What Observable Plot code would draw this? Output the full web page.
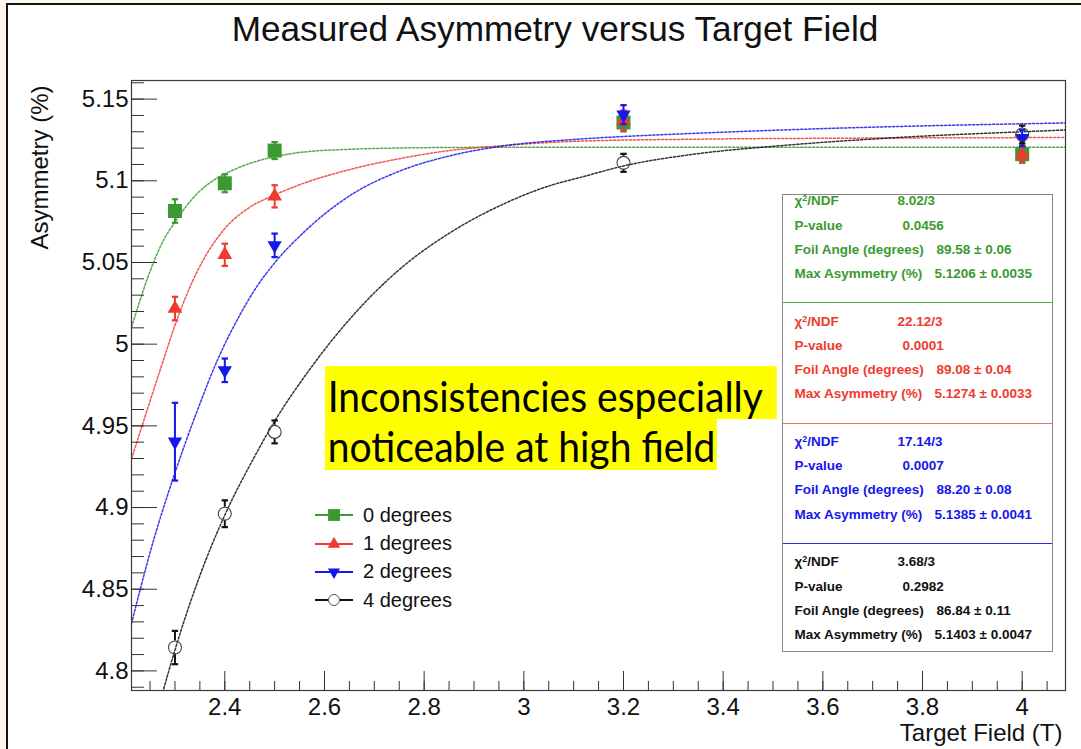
<!DOCTYPE html>
<html>
<head>
<meta charset="utf-8">
<script src="https://cdn.jsdelivr.net/npm/d3@7"></script>
<script src="https://cdn.jsdelivr.net/npm/@observablehq/plot@0.6"></script>
<style>
  html, body { margin: 0; padding: 0; }
  body { position: relative; width: 1081px; height: 749px; overflow: hidden; background: #fdf6ea;
         font-family: "Liberation Sans", Arial, Helvetica, sans-serif; color: #111; }
  #sheet { position: absolute; left: 6px; top: 3px; width: 1100px; height: 780px; background: #fff;
           border-left: 2px solid #141414; border-top: 2px solid #141414; }
  #chart { position: absolute; left: 0; top: 0; }
  #title { position: absolute; left: 0; top: 11px; width: 1110px; text-align: center;
           font-size: 35.2px; line-height: 35px; }
  #legend { position: absolute; left: 313px; top: 501px; font-size: 20px; }
  .lg-row { display: flex; align-items: center; height: 28.4px; }
  .lg-row svg { margin-right: 8px; overflow: visible; }
  #stats { position: absolute; left: 782px; top: 194px; width: 271px; height: 458px; box-sizing: border-box;
           border: 1.5px solid #8a8a8a; background: #fff; overflow: hidden; }
  .divider { position: absolute; left: 0; width: 100%; height: 0; border-top: 1.5px solid; }
  .st { position: absolute; font-weight: bold; font-size: 13.5px; line-height: 12px; white-space: pre; }
  .st .sup { position: relative; top: -4px; font-size: 9px; line-height: 0; }
  #note { position: absolute; left: 325px; top: 366px; font-family: Lato, "Open Sans", sans-serif;
          font-size: 43px; color: #000; transform: scaleX(0.907); transform-origin: 0 0; }
  #note div { background: #ffff00; width: fit-content; white-space: pre; padding-left: 3px; }
</style>
</head>
<body>
<div id="sheet"></div>
<div id="chart"></div>
<div id="title">Measured Asymmetry versus Target Field</div>
<div id="legend"></div>
<div id="stats"></div>
<div id="note">
  <div style="height:53px; padding-top:6px; padding-right:5px; line-height:47px; box-sizing:border-box;">Inconsistencies especially </div>
  <div style="height:51px; padding-top:2px; padding-right:2px; line-height:49px; box-sizing:border-box;">noticeable at high field</div>
</div>
<script>
// ---- measurements: asymmetry (%) at each target field (T) for each foil tilt ----
const fieldT = [2.3, 2.4, 2.5, 3.2, 4.0];
const seriesNames = ["0 degrees", "1 degrees", "2 degrees", "4 degrees"];

const asym0 = [5.0815, 5.0985, 5.1185, 5.1357, 5.1163];
const err0  = [0.0072, 0.0055, 0.0052, 0.0055, 0.0045];
const asym1 = [5.0218, 5.0547, 5.0905, 5.1370, 5.1160];
const err1  = [0.0072, 0.0068, 0.0068, 0.0060, 0.0050];
const asym2 = [4.9403, 4.9840, 5.0605, 5.1405, 5.1262];
const err2  = [0.0238, 0.0072, 0.0072, 0.0058, 0.0050];
const asym4 = [4.8143, 4.8962, 4.9463, 5.1110, 5.1283];
const err4  = [0.0102, 0.0082, 0.0070, 0.0055, 0.0055];

// ---- fitted curves, sampled along the field axis ----
const fitField0 = [2.2128, 2.257, 2.279, 2.301, 2.345, 2.377, 2.399, 2.446, 2.498, 2.552, 2.652, 2.753, 2.853, 3.054, 4.0869];
const fitAsym0  = [5.0103, 5.0501, 5.0647, 5.0752, 5.0923, 5.1002, 5.1040, 5.1102, 5.1146, 5.1174, 5.1193, 5.1201, 5.1204, 5.1206, 5.1206];
const fitField1 = [2.2128, 2.277, 2.301, 2.345, 2.399, 2.446, 2.498, 2.552, 2.652, 2.753, 2.853, 2.953, 3.114, 3.355, 3.656, 4.0869];
const fitAsym1  = [4.9298, 4.9904, 5.0124, 5.0447, 5.0704, 5.0830, 5.0911, 5.0978, 5.1070, 5.1137, 5.1186, 5.1214, 5.1243, 5.1255, 5.1261, 5.1265];
const fitField2 = [2.2128, 2.257, 2.297, 2.345, 2.385, 2.432, 2.458, 2.506, 2.552, 2.592, 2.652, 2.753, 2.853, 2.953, 3.114, 3.254, 3.395, 3.595, 3.856, 4.0869];
const fitAsym2  = [4.8291, 4.8799, 4.9185, 4.9595, 4.9901, 5.0188, 5.0323, 5.0519, 5.0666, 5.0776, 5.0911, 5.1062, 5.1154, 5.1211, 5.1256, 5.1279, 5.1297, 5.1319, 5.1340, 5.1354];
const fitField4 = [2.271, 2.301, 2.345, 2.399, 2.458, 2.500, 2.566, 2.652, 2.753, 2.853, 2.953, 3.054, 3.114, 3.200, 3.355, 3.515, 3.756, 3.999, 4.0869];
const fitAsym4  = [4.7820, 4.8138, 4.8542, 4.8947, 4.9302, 4.9528, 4.9827, 5.0158, 5.0464, 5.0684, 5.0849, 5.0972, 5.1021, 5.1091, 5.1168, 5.1215, 5.1266, 5.1300, 5.1311];

// ---- fit statistics ----
const statChi2  = ["8.02/3", "22.12/3", "17.14/3", "3.68/3"];
const statPval  = ["0.0456", "0.0001", "0.0007", "0.2982"];
const statAngle = ["89.58 \u00b1 0.06", "89.08 \u00b1 0.04", "88.20 \u00b1 0.08", "86.84 \u00b1 0.11"];
const statMax   = ["5.1206 \u00b1 0.0035", "5.1274 \u00b1 0.0033", "5.1385 \u00b1 0.0041", "5.1403 \u00b1 0.0047"];
const statLabels = ["\u03c7<span class='sup'>2</span>/NDF", "P-value", "Foil Angle (degrees)", "Max Asymmetry (%)"];

// ---- axis ticks ----
const xMajor = [2.4, 2.6, 2.8, 3, 3.2, 3.4, 3.6, 3.8, 4];
const yMajor = [4.8, 4.85, 4.9, 4.95, 5, 5.05, 5.1, 5.15];

const colors = ["#3a9a31", "#ef3a2e", "#1616ee", "#111111"];
const symbols = ["square", "triangle", "triangle", "circle"];
const d3Symbols = [d3.symbolSquare, d3.symbolTriangle, d3.symbolTriangle, d3.symbolCircle];
const rotations = [0, 0, 180, 0];
const radii = [7.9, 5.5, 5.3, 6.5];

const asyms = [asym0, asym1, asym2, asym4];
const errs = [err0, err1, err2, err4];
const fitFields = [fitField0, fitField1, fitField2, fitField4];
const fitAsyms = [fitAsym0, fitAsym1, fitAsym2, fitAsym4];

const W = 1081, H = 749;
const mL = 131, mR = 16, mT = 80, mB = 59;
const frameW = W - mL - mR, frameH = H - mT - mB;

const xMinor = d3.range(2.25, 4.09, 0.05).map(v => +v.toFixed(2));
const yMinor = d3.range(4.79, 5.165, 0.01).map(v => +v.toFixed(2));

// horizontal bar used as error-bar cap
const capSymbol = {
  draw(context, size) {
    const r = Math.sqrt(size / Math.PI);
    context.moveTo(-r, 0);
    context.lineTo(r, 0);
  }
};

const marks = [];

// fitted curves
asyms.forEach((_, i) => {
  const rows = fitFields[i].map((x, k) => ({x, y: fitAsyms[i][k]}));
  marks.push(Plot.line(rows, {
    x: "x", y: "y", stroke: colors[i], strokeWidth: 1.5, strokeOpacity: 0.85,
    strokeDasharray: "2.2,1.8", curve: "monotone-x", clip: true
  }));
});

// points with error bars (open circles leave their interior free of the bar)
asyms.forEach((asym, i) => {
  const rows = fieldT.map((x, k) => ({x, y: asym[k], e: errs[i][k]}));
  const barColor = i === 3 ? "#111" : colors[i];
  if (symbols[i] === "circle") {
    marks.push(Plot.ruleX(rows, {x: "x", y1: d => d.y + d.e, y2: "y", insetBottom: radii[i], stroke: barColor, strokeWidth: 2}));
    marks.push(Plot.ruleX(rows, {x: "x", y1: "y", y2: d => d.y - d.e, insetTop: radii[i], stroke: barColor, strokeWidth: 2}));
  } else {
    marks.push(Plot.ruleX(rows, {x: "x", y1: d => d.y - d.e, y2: d => d.y + d.e, stroke: barColor, strokeWidth: 2}));
  }
  const caps = rows.flatMap(d => [{x: d.x, y: d.y - d.e}, {x: d.x, y: d.y + d.e}]);
  marks.push(Plot.dot(caps, {x: "x", y: "y", symbol: capSymbol, r: 3.2, stroke: barColor, strokeWidth: 2.2, fill: "none"}));
  if (symbols[i] === "circle") {
    marks.push(Plot.dot(rows, {x: "x", y: "y", symbol: "circle", r: radii[i], fill: "none", stroke: "#444", strokeWidth: 1.1}));
  } else {
    marks.push(Plot.dot(rows, {x: "x", y: "y", symbol: symbols[i], r: radii[i], rotate: rotations[i], fill: colors[i], stroke: "none"}));
  }
});

// frame, inward ticks and labels
marks.push(
  Plot.frame({stroke: "#3a3a3a", strokeWidth: 1.2}),
  Plot.tickX(xMinor, {x: d => d, insetTop: frameH - 9, stroke: "#333"}),
  Plot.tickX(xMajor, {x: d => d, insetTop: frameH - 19, stroke: "#333"}),
  Plot.tickY(yMinor, {y: d => d, insetRight: frameW - 13, stroke: "#333"}),
  Plot.tickY(yMajor, {y: d => d, insetRight: frameW - 26, stroke: "#333"}),
  Plot.axisX({ticks: xMajor, tickSize: 0, tickPadding: 7, tickFormat: d => String(d), fontSize: 24, label: null}),
  Plot.axisY({ticks: yMajor, tickSize: 0, tickPadding: 3, tickFormat: d => String(d), fontSize: 24, label: null}),
  Plot.text(["Asymmetry (%)"], {frameAnchor: "top-left", rotate: -90, textAnchor: "end", dx: -101, dy: 5, fontSize: 24, fill: "#111"}),
  Plot.text(["Target Field (T)"], {frameAnchor: "bottom-right", textAnchor: "end", dx: -3, dy: 50, fontSize: 24, fill: "#111"})
);

const chart = Plot.plot({
  width: W, height: H,
  marginLeft: mL, marginRight: mR, marginTop: mT, marginBottom: mB,
  x: {domain: [2.2128, 4.0869]},
  y: {domain: [4.788, 5.1614]},
  style: {fontFamily: "'Liberation Sans', Arial, sans-serif", fontSize: "24px", color: "#111", background: "transparent", overflow: "visible"},
  marks
});
document.getElementById("chart").appendChild(chart);

// ---- legend ----
const legend = d3.select("#legend");
seriesNames.forEach((name, i) => {
  const row = legend.append("div").attr("class", "lg-row");
  const svg = row.append("svg").attr("width", 42).attr("height", 24);
  svg.append("line").attr("x1", 2).attr("x2", 40).attr("y1", 12).attr("y2", 12)
    .attr("stroke", colors[i]).attr("stroke-width", 2);
  const r = radii[i] * 0.85;
  svg.append("path")
    .attr("transform", `translate(21,12) rotate(${rotations[i]})`)
    .attr("d", d3.symbol(d3Symbols[i], r * r * Math.PI)())
    .attr("fill", i === 3 ? "#fff" : colors[i])
    .attr("stroke", i === 3 ? "#555" : "none")
    .attr("stroke-width", 1);
  row.append("span").text(name);
});

// ---- fit statistics box ----
const stats = d3.select("#stats");
const inner = 1.5;                         // border width
const boxTop = 194 + inner, boxLeft = 782 + inner;
const sectionStep = 120.3, firstSection = 182.4;
const rowStep = 24.2, rowOffset = 19.5;
const valueX = [898, 903, 937, 935];
const dividerColors = ["#5aae50", "#f07068", "#2a2af0"];
seriesNames.forEach((_, i) => {
  const top = firstSection + i * sectionStep;
  const values = [statChi2[i], statPval[i], statAngle[i], statMax[i]];
  const color = i === 3 ? "#111" : colors[i];
  statLabels.forEach((lab, j) => {
    const cy = top + rowOffset + j * rowStep - boxTop - 6;
    stats.append("div").attr("class", "st").style("left", (795 - boxLeft) + "px").style("top", cy + "px")
      .style("color", color).html(lab);
    stats.append("div").attr("class", "st").style("left", (valueX[j] - boxLeft) + "px").style("top", cy + "px")
      .style("color", color).text(values[j]);
  });
  if (i < 3) {
    stats.append("div").attr("class", "divider")
      .style("top", (top + sectionStep - boxTop) + "px")
      .style("border-color", dividerColors[i]);
  }
});
</script>
</body>
</html>
